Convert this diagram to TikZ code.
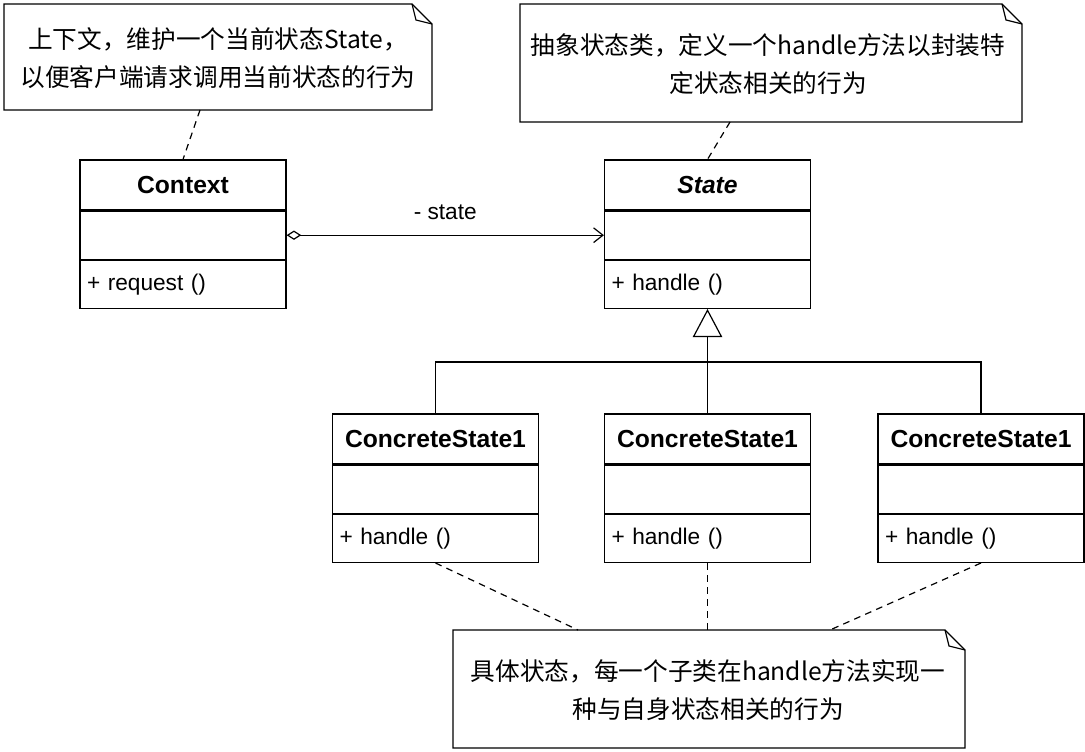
\documentclass[tikz,border=0pt]{standalone}
\usepackage{fontspec}
\setmainfont{Liberation Sans}
\newfontfamily\cjk{Noto Sans CJK SC}
\usetikzlibrary{positioning,arrows.meta}
\begin{document}
\begin{tikzpicture}[x=0.75pt,y=-0.75pt,line width=0.9pt,
  font=\fontsize{17}{20}\selectfont,
  head/.style={draw,minimum width=154.5pt,minimum height=37.5pt,inner sep=0pt,font=\fontsize{18.5}{22}\selectfont\bfseries},
  part/.style={draw,minimum width=154.5pt,minimum height=36pt,inner sep=0pt,text width=144pt,align=left},
  note/.style={align=center,font=\cjk\fontsize{18.5}{28}\selectfont},
  dashline/.style={dash pattern=on 5pt off 4pt}]
\useasboundingbox (0,0) rectangle (1085,752);
% notes
\draw (4,4) -- (412,4) -- (432,24) -- (432,110) -- (4,110) -- cycle;
\draw (412,4) -- (416,20) -- (432,24);
\node[note] (n1) at (218,58) {上下文，维护一个当前状态State，\\以便客户端请求调用当前状态的行为};
\draw (520,4) -- (1002,4) -- (1022,24) -- (1022,122) -- (520,122) -- cycle;
\draw (1002,4) -- (1006,20) -- (1022,24);
\node[note] (n2) at (768,64) {抽象状态类，定义一个handle方法以封装特\\定状态相关的行为};
\draw (453,630) -- (945,630) -- (965,650) -- (965,748) -- (453,748) -- cycle;
\draw (945,630) -- (949,646) -- (965,650);
\node[note] (n3) at (708,690) {具体状态，每一个子类在handle方法实现一\\种与自身状态相关的行为};
% classes
\node[head] (ctx) at (183,185) {Context};
\node[part,below=0pt of ctx] (ctxa) {};
\node[part,below=0pt of ctxa] (ctxm) {+ request ()};
\node[head] (st) at (707.5,185) {\itshape State};
\node[part,below=0pt of st] (sta) {};
\node[part,below=0pt of sta] (stm) {+ handle ()};
\foreach \n/\x in {c1/435.5,c2/707.5,c3/981}{
  \node[head] (\n) at (\x,439) {ConcreteState1};
  \node[part,below=0pt of \n] (\n a) {};
  \node[part,below=0pt of \n a] (\n m) {+ handle ()};
}
% relations
\draw[{Diamond[open,length=11pt,width=7pt]}-{Straight Barb[length=7pt,width=11pt]}] (ctxa.east) -- node[above=8pt]{- state} (sta.west);
\coordinate (j) at (707.5,362);
\draw[-{Triangle[open,length=21pt,width=22pt]}] (j) -- (stm.south);
\draw (c1.north) |- (j) -| (c3.north);
\draw (c2.north) -- (j);
\draw[dashline] (200,110) -- (ctx.north);
\draw[dashline] (730,122) -- (st.north);
\draw[dashline] (c1m.south) -- (578,630);
\draw[dashline] (c2m.south) -- (707.5,630);
\draw[dashline] (c3m.south) -- (830,630);
\end{tikzpicture}
\end{document}
